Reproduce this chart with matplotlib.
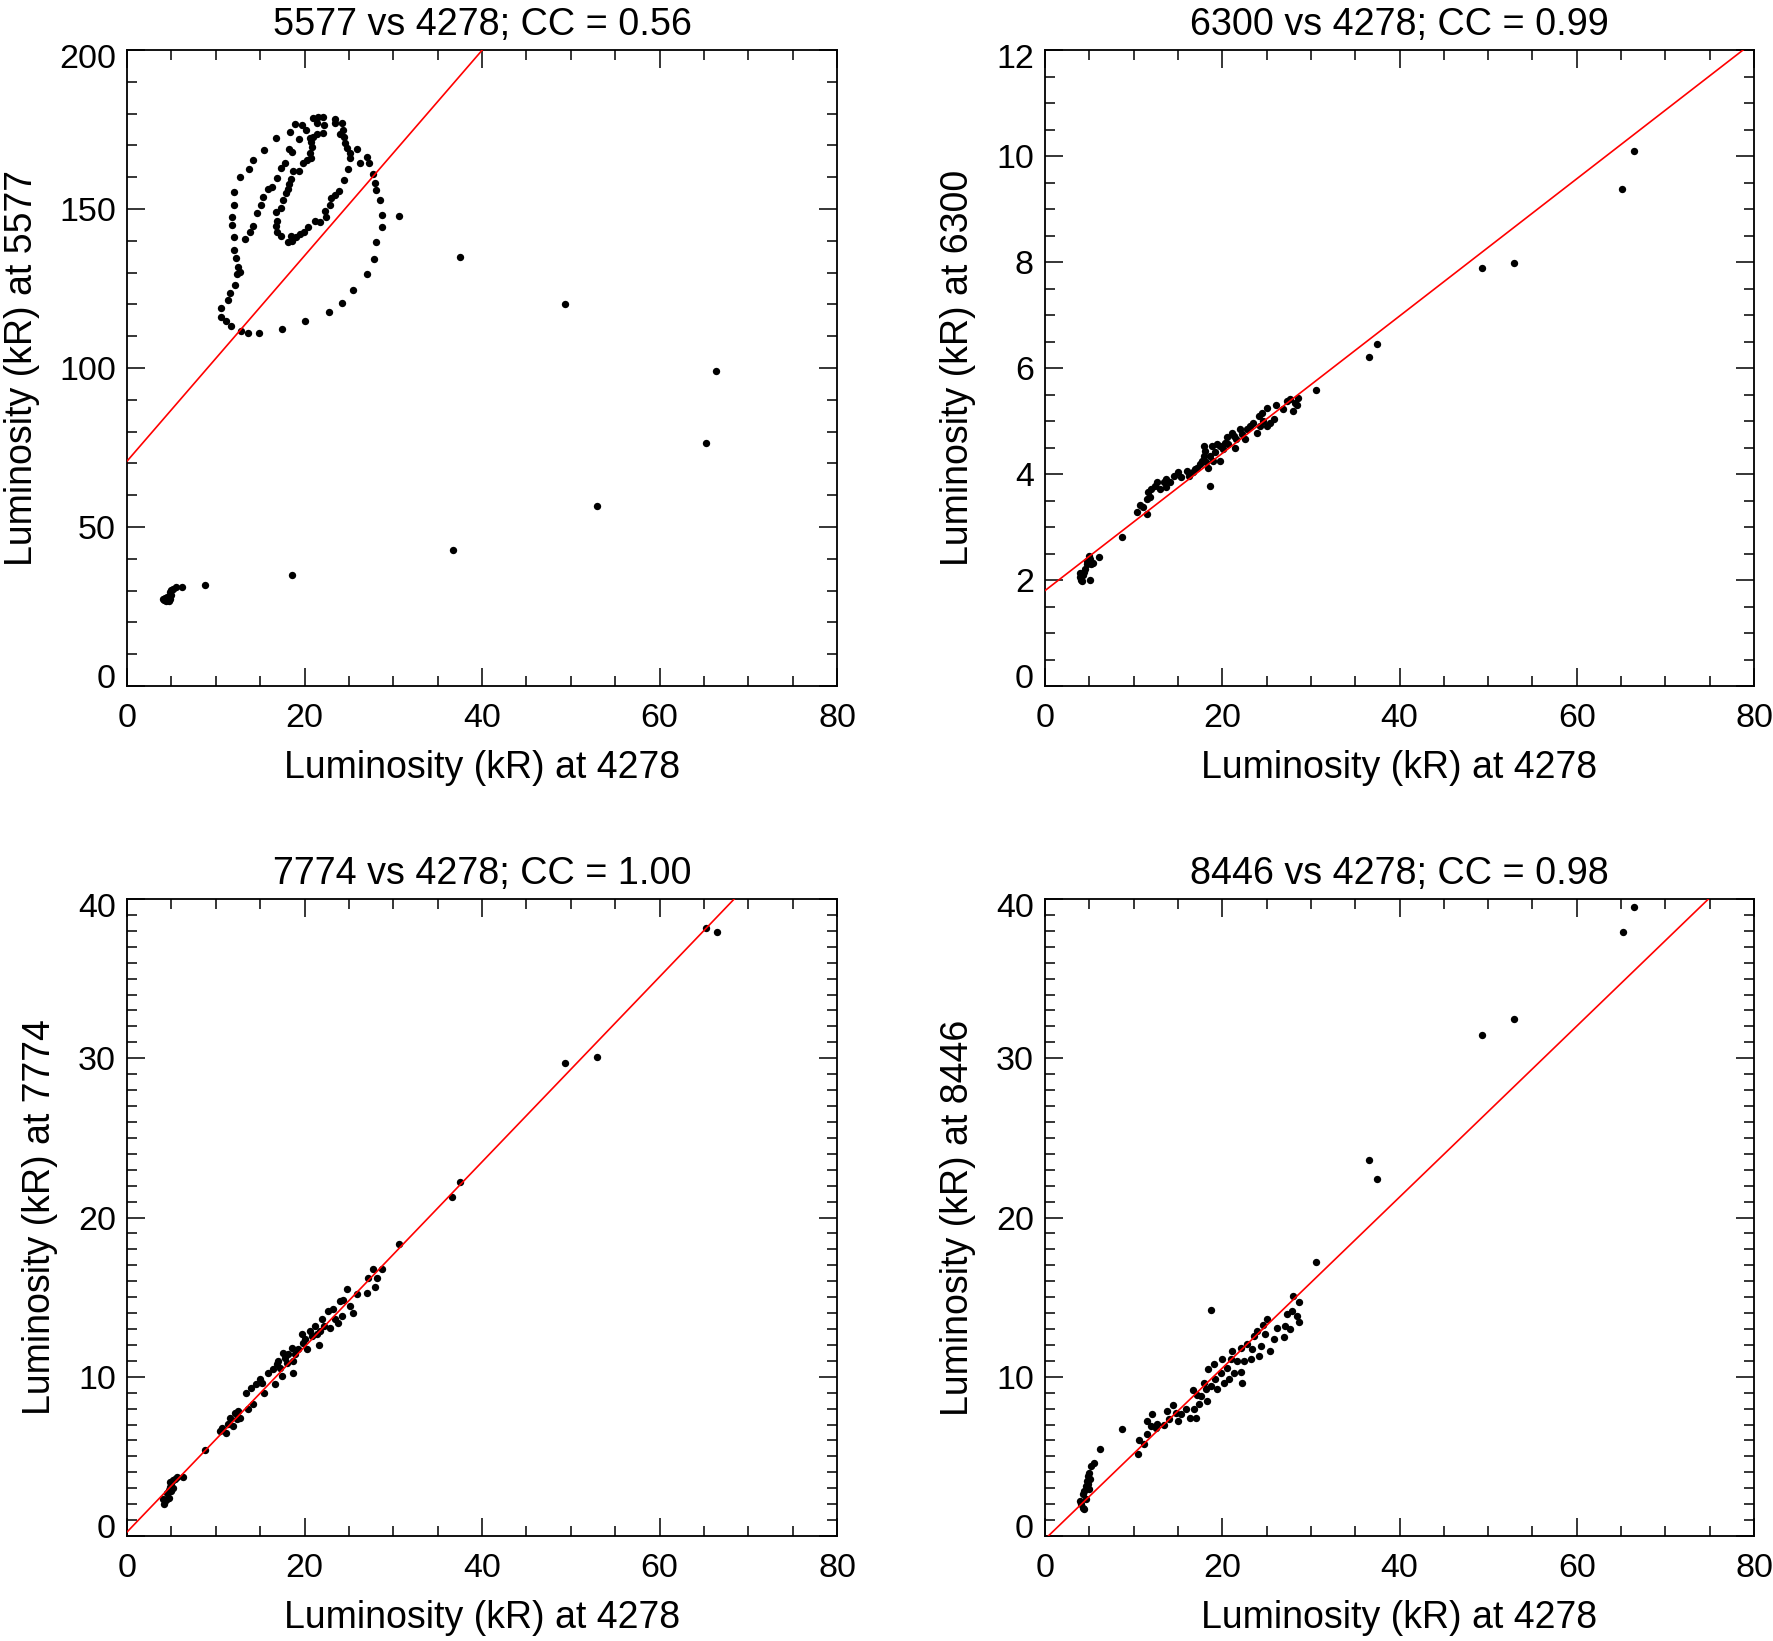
import numpy as np
import matplotlib
matplotlib.use("Agg")
import matplotlib.pyplot as plt
from matplotlib.ticker import MultipleLocator
import matplotlib.transforms as mtransforms

plt.rcParams['font.family'] = ['Liberation Sans', 'DejaVu Sans']

# luminosity (kR) at 4278 (x) against each line (y)

# 5577 vs 4278
x_5577 = [4.0, 4.2, 4.4, 4.6, 4.8, 4.5, 5.0, 4.9, 5.0, 5.2, 5.5, 4.3, 4.7, 6.2, 8.8,
          18.6, 36.7, 53.0, 65.2, 66.4, 49.3, 37.5, 30.6,
          16.8, 15.4, 14.2, 13.8, 12.7, 12.1, 12.0, 11.8, 11.8, 12.0, 12.1, 12.3, 12.5,
          12.7, 12.4, 12.2, 11.6, 11.4, 10.6, 10.6, 11.1, 11.7, 12.8, 13.6, 14.9, 17.5,
          20.1, 22.8, 24.2, 25.5, 27.0, 27.8, 28.1, 28.7, 28.7, 28.5, 28.0, 27.9, 27.7,
          27.3, 27.0, 26.3, 25.9, 25.1, 24.9, 24.5, 23.9, 23.4, 23.0, 22.9, 22.3, 22.4,
          21.8, 21.2, 20.4, 19.9, 19.5, 19.0, 18.6, 18.1, 18.5, 17.3, 16.9, 16.8, 16.9,
          16.8, 17.4, 17.6, 17.9, 18.1, 18.2, 18.5, 18.7, 19.4, 19.8, 20.3, 20.7, 20.6,
          20.8, 20.7, 20.6, 21.0, 21.4, 22.1, 22.2, 21.4, 21.0, 21.5, 22.1, 23.4, 23.4,
          24.2, 24.3, 24.0, 24.5, 24.6, 24.8, 25.1, 18.9, 18.4, 18.2, 18.6, 17.8, 17.4,
          16.9, 16.3, 15.9, 15.3, 15.1, 14.6, 14.2, 13.9, 13.3, 19.4, 20.2, 19.7]
y_5577 = [27.3, 27.0, 26.8, 27.0, 27.5, 28.0, 28.5, 29.5, 30.3, 30.5, 31.0, 27.8, 26.6, 31.1, 31.8,
          34.8, 42.7, 56.7, 76.3, 99.0, 120.0, 135.0, 147.9,
          172.4, 168.6, 165.4, 162.5, 160.0, 155.2, 151.3, 147.6, 145.0, 141.3, 137.1, 134.5, 131.9,
          130.3, 129.6, 126.1, 123.7, 121.4, 119.0, 116.0, 114.9, 113.1, 111.7, 110.9, 110.9, 112.4,
          114.9, 117.6, 120.3, 124.5, 129.5, 134.2, 139.5, 144.3, 148.0, 152.7, 156.0, 158.1, 161.0,
          164.5, 166.4, 164.6, 169.0, 165.9, 162.7, 159.1, 155.8, 154.5, 153.6, 151.2, 149.5, 147.6,
          146.0, 146.2, 144.4, 142.9, 142.1, 141.3, 140.0, 139.6, 141.5, 141.6, 142.8, 144.7, 146.2,
          149.1, 150.4, 152.8, 154.9, 156.4, 157.8, 159.3, 162.0, 161.9, 164.4, 165.4, 165.9, 167.7,
          169.4, 171.2, 172.4, 172.7, 173.6, 173.8, 176.4, 177.1, 178.5, 178.8, 179.0, 178.2, 176.9,
          176.9, 175.0, 173.6, 172.7, 170.7, 169.1, 167.5, 176.6, 174.3, 168.8, 168.0, 164.4, 162.8,
          159.6, 157.0, 156.3, 153.9, 151.3, 148.6, 144.7, 142.8, 140.7, 171.9, 174.8, 176.4]

# 6300 vs 4278
x_6300 = [3.95, 4.1, 4.3, 4.5, 4.7, 4.9, 5.1, 5.0, 4.7, 4.4, 5.1, 5.2, 5.4, 6.1, 4.0, 4.2,
          8.65, 10.35, 11.1, 11.5, 10.7, 11.5, 11.85, 11.66, 12.0, 12.6, 12.4, 12.98, 13.4,
          13.7, 13.66, 14.1, 14.5, 15.05, 15.4, 16.0, 16.2, 16.7, 16.9, 17.1, 17.5, 17.7,
          17.9, 17.9, 18.1, 18.2, 18.4, 18.6, 18.6, 18.8, 19.0, 19.2, 19.4, 19.7, 19.7,
          20.1, 20.3, 20.5, 20.7, 21.1, 21.3, 21.4, 21.6, 22.0, 22.2, 22.6, 22.8, 23.1,
          23.5, 23.9, 24.1, 24.3, 24.5, 24.6, 25.0, 25.0, 25.4, 25.8, 26.1, 26.9, 27.3,
          27.6, 28.0, 28.2, 28.6, 28.4, 30.6, 36.6, 37.5, 49.3, 52.95, 65.1, 66.5]
y_6300 = [2.05, 2.0, 2.1, 2.2, 2.3, 2.35, 2.4, 2.45, 2.35, 2.15, 2.0, 2.3, 2.33, 2.43, 2.13, 1.98,
          2.81, 3.28, 3.375, 3.25, 3.41, 3.53, 3.56, 3.66, 3.72, 3.84, 3.78, 3.72, 3.84,
          3.91, 3.75, 3.84, 3.97, 4.03, 3.94, 4.06, 3.97, 4.03, 4.09, 4.12, 4.19, 4.25,
          4.34, 4.53, 4.44, 4.22, 4.12, 3.78, 4.34, 4.53, 4.25, 4.41, 4.56, 4.53, 4.25,
          4.47, 4.59, 4.69, 4.56, 4.78, 4.72, 4.5, 4.66, 4.84, 4.75, 4.66, 4.84, 4.91,
          4.97, 4.78, 5.09, 4.91, 5.16, 5.0, 5.25, 4.91, 4.97, 5.03, 5.31, 5.22, 5.38,
          5.41, 5.19, 5.34, 5.44, 5.31, 5.59, 6.20, 6.45, 7.89, 7.99, 9.37, 10.09]

# 7774 vs 4278
x_7774 = [4.1, 4.3, 4.5, 4.7, 4.5, 4.7, 4.8, 5.0, 4.9, 5.2, 5.4, 5.6, 5.0, 5.2, 6.3, 4.2,
          8.8, 10.49, 10.68, 11.16, 11.43, 11.61, 11.99, 12.18, 12.36, 12.55, 12.74, 13.41,
          13.68, 13.94, 14.24, 14.54, 14.99, 15.18, 15.44, 15.93, 16.49, 16.68, 16.87, 17.06,
          17.24, 17.43, 17.62, 17.81, 18.0, 18.18, 18.55, 18.67, 18.74, 18.93, 19.31, 19.68,
          19.79, 20.05, 20.24, 20.62, 20.81, 21.18, 21.37, 21.67, 21.74, 21.93, 22.19, 22.68,
          22.87, 23.25, 23.43, 23.81, 24.0, 24.19, 24.37, 24.75, 25.12, 25.5, 25.95, 27.0,
          27.19, 27.75, 27.94, 28.13, 28.69, 30.67, 36.65, 37.5, 49.3, 53.0, 65.2, 66.5]
y_7774 = [2.3, 2.2, 2.3, 2.4, 2.7, 2.9, 3.1, 3.3, 3.4, 3.5, 3.6, 3.7, 2.8, 3.0, 3.7, 2.0,
          5.4, 6.59, 6.80, 6.49, 7.01, 7.43, 6.90, 7.74, 7.32, 7.85, 7.43, 9.00,
          7.99, 9.31, 8.26, 9.52, 9.83, 9.58, 9.00, 10.25, 10.46, 9.52, 10.77, 10.98,
          10.56, 10.04, 11.51, 11.19, 10.88, 11.40, 11.82, 10.25, 10.98, 11.40, 11.72, 12.66,
          12.13, 12.34, 11.72, 12.87, 12.55, 13.18, 12.66, 11.97, 12.87, 13.60, 13.18, 14.12,
          13.08, 14.23, 13.60, 13.39, 14.75, 13.81, 14.85, 15.48, 14.44, 14.02, 15.17, 15.27,
          16.21, 16.74, 15.65, 16.21, 16.78, 18.31, 21.3, 22.2, 29.7, 30.1, 38.2, 37.9]

# 8446 vs 4278
x_8446 = [4.05, 4.24, 4.43, 3.98, 4.24, 4.43, 4.62, 4.73, 4.80, 4.99, 5.18, 5.48, 4.80, 4.99,
          4.62, 5.10, 6.19, 8.74, 10.51, 10.62, 11.18, 11.48, 11.56, 11.93, 12.12, 12.50, 12.68,
          13.43, 13.73, 14.0, 14.48, 14.75, 15.01, 15.31, 15.87, 16.32, 16.74, 17.0, 16.81, 17.19,
          17.37, 17.56, 17.94, 18.12, 18.31, 18.42, 18.69, 18.69, 19.06, 19.14, 19.44, 19.81,
          20.0, 20.19, 20.56, 20.75, 20.94, 21.13, 21.31, 21.69, 22.06, 22.14, 22.25, 22.51,
          22.81, 23.19, 23.38, 23.56, 23.94, 24.13, 24.32, 24.62, 24.88, 25.07, 25.44, 25.82,
          26.19, 26.94, 27.13, 27.32, 27.69, 27.88, 27.99, 28.44, 28.63, 28.67, 30.62,
          36.6, 37.5, 49.3, 52.95, 65.2, 66.5]
y_8446 = [1.99, 1.78, 1.67, 2.20, 2.62, 2.82, 3.14, 3.45, 3.77, 3.97, 4.39, 4.56, 3.24, 2.93,
          2.30, 3.56, 5.44, 6.74, 5.13, 6.03, 5.75, 6.38, 7.22, 6.90, 7.64, 6.80, 7.01,
          6.95, 7.85, 7.32, 8.20, 7.74, 7.22, 7.64, 7.95, 7.43, 9.16, 7.43, 7.95, 8.83,
          8.26, 8.79, 9.62, 9.21, 8.47, 10.50, 14.18, 9.41, 10.77, 9.83, 9.21, 10.25,
          11.09, 9.62, 10.56, 9.83, 11.09, 11.61, 10.25, 10.98, 11.82, 10.29, 9.62, 10.98,
          12.03, 11.09, 11.72, 12.55, 12.87, 11.30, 11.92, 13.28, 12.66, 13.60, 11.61, 12.34,
          13.08, 12.51, 13.18, 13.91, 13.01, 14.12, 15.10, 13.81, 13.43, 14.71, 17.22,
          23.6, 22.4, 31.45, 32.46, 37.9, 39.5]

lines = ['5577', '6300', '7774', '8446']
cc = [0.56, 0.99, 1.00, 0.98]
fit_slope = [3.23, 0.1295, 0.581, 0.537]
fit_intercept = [70.7, 1.8, 0.25, -0.2]

x_data = [x_5577, x_6300, x_7774, x_8446]
y_data = [y_5577, y_6300, y_7774, y_8446]
y_max = [200, 12, 40, 40]
y_major = [50, 2, 10, 10]
y_minor = [10, 0.5, 1, 1]

W, H = 1773, 1641
fig = plt.figure(figsize=(W / 100, H / 100), dpi=100)

# axes boxes in pixels: left, top, right, bottom
boxes = [(127, 50, 837, 686), (1045, 50, 1754, 686),
         (127, 899, 837, 1536), (1045, 899, 1754, 1536)]
ylabel_x = [-0.122, -0.098, -0.097, -0.098]

for i in range(4):
    l, t, r, b = boxes[i]
    ax = fig.add_axes([l / W, 1 - b / H, (r - l) / W, (b - t) / H])

    ax.scatter(x_data[i], y_data[i], s=28, c='black', linewidths=0, zorder=3)
    xx = np.array([0, 80])
    ax.plot(xx, fit_intercept[i] + fit_slope[i] * xx, color='red', lw=1.2, zorder=4)

    ax.set_xlim(0, 80)
    ax.set_ylim(0, y_max[i])
    ax.set_xticks(np.arange(0, 81, 20))
    ax.set_yticks(np.arange(0, y_max[i] + y_major[i] / 2, y_major[i]))
    ax.xaxis.set_minor_locator(MultipleLocator(5))
    ax.yaxis.set_minor_locator(MultipleLocator(y_minor[i]))
    ax.tick_params(which='both', direction='in', top=True, right=True,
                   width=1.1, labelsize=24.5)
    ax.tick_params(which='major', length=13)
    ax.tick_params(which='minor', length=7)
    ax.tick_params(axis='x', pad=12)
    ax.tick_params(axis='y', pad=8)
    for s in ax.spines.values():
        s.set_linewidth(1.3)

    # end labels sit inside the axis range, like the original
    labels = ax.get_yticklabels()
    labels[0].set_transform(labels[0].get_transform() +
                            mtransforms.ScaledTranslation(0, 7 / 72, fig.dpi_scale_trans))
    labels[-1].set_transform(labels[-1].get_transform() +
                             mtransforms.ScaledTranslation(0, -4 / 72, fig.dpi_scale_trans))

    ax.set_title(f'{lines[i]} vs 4278; CC = {cc[i]:.2f}', fontsize=27.2, pad=11)
    ax.set_xlabel('Luminosity (kR) at 4278', fontsize=27)
    ax.set_ylabel(f'Luminosity (kR) at {lines[i]}', fontsize=27)
    ax.xaxis.set_label_coords(0.5, -0.1)
    ax.yaxis.set_label_coords(ylabel_x[i], 0.5)

fig.savefig('out.png', dpi=100)
